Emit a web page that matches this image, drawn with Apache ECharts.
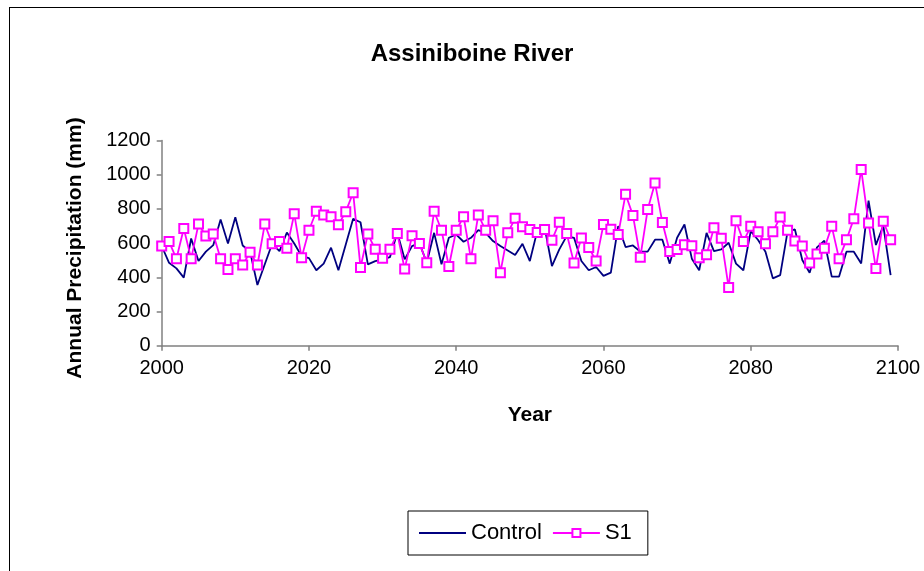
<!DOCTYPE html>
<html>
<head>
<meta charset="utf-8">
<script src="https://cdn.jsdelivr.net/npm/echarts@6/dist/echarts.min.js"></script>
<style>
html,body{margin:0;padding:0;background:#fff;}
#frame{position:absolute;left:9px;top:7px;width:930px;height:580px;border:1px solid #000;box-sizing:border-box;}
#chart{position:absolute;left:0;top:0;width:924px;height:571px;}
</style>
</head>
<body>
<div id="frame"></div>
<div id="chart"></div>
<script>
const startYear = 2000;
const controlValues = [
  583, 485, 452, 398, 627, 495, 550, 588, 738, 598,
  751, 586, 550, 355, 476, 596, 553, 662, 598, 524,
  512, 441, 480, 573, 441, 592, 742, 722, 476, 495,
  505, 518, 660, 505, 582, 600, 485, 660, 476, 631,
  650, 608, 631, 676, 660, 612, 583, 557, 530, 596,
  495, 670, 693, 466, 563, 641, 631, 495, 441, 460,
  408, 427, 699, 577, 586, 550, 550, 620, 620, 480,
  631, 709, 509, 441, 660, 553, 563, 602, 480, 441,
  670, 618, 550, 394, 413, 667, 680, 501, 427, 575,
  614, 404, 404, 550, 550, 481, 848, 589, 702, 413
];
const s1Values = [
  583, 609, 508, 685, 508, 711, 641, 653, 508, 446,
  508, 472, 547, 472, 711, 596, 609, 570, 771, 515,
  675, 786, 765, 754, 707, 784, 895, 457, 653, 564,
  512, 564, 656, 448, 643, 598, 485, 786, 675, 463,
  675, 754, 508, 765, 675, 730, 427, 660, 745, 696,
  679, 662, 679, 617, 722, 656, 483, 630, 574, 495,
  709, 681, 651, 886, 762, 517, 796, 952, 720, 551,
  562, 591, 585, 515, 532, 690, 628, 340, 730, 609,
  698, 666, 596, 666, 752, 675, 613, 583, 483, 536,
  570, 698, 508, 619, 743, 1031, 717, 451, 728, 619
];
const seriesNames = ['Control', 'S1'];
const xTicks = [2000, 2020, 2040, 2060, 2080, 2100];
const yTicks = [0, 200, 400, 600, 800, 1000, 1200];
const yAxisTitle = 'Annual Precipitation (mm)';

const toPairs = vals => vals.map((v, i) => [startYear + i, v]);

const chart = echarts.init(document.getElementById('chart'), null, {renderer: 'canvas'});
const font = '"Liberation Sans", Arial, sans-serif';
chart.setOption({
  backgroundColor: 'transparent',
  animation: false,
  textStyle: {fontFamily: font, color: '#000'},
  title: {
    text: 'Assiniboine River',
    left: 467, top: 37, textAlign: 'center',
    textStyle: {fontFamily: font, fontSize: 24, fontWeight: 'bold', color: '#000'}
  },
  graphic: [{
    type: 'text',
    x: 75, y: 248,
    rotation: Math.PI / 2,
    style: {
      text: yAxisTitle,
      font: 'bold 21px "Liberation Sans", Arial, sans-serif',
      fill: '#000',
      align: 'center',
      verticalAlign: 'middle'
    }
  }],
  grid: {left: 161.7, top: 140.5, width: 736.3, height: 205.2, containLabel: false},
  xAxis: {
    type: 'value',
    min: xTicks[0], max: xTicks[xTicks.length - 1], interval: 20,
    name: 'Year', nameLocation: 'middle', nameGap: 59,
    nameTextStyle: {fontFamily: font, fontSize: 21, fontWeight: 'bold', color: '#000'},
    axisLine: {onZero: false, lineStyle: {color: '#808080', width: 1.5}},
    axisTick: {show: true, inside: false, length: 5, lineStyle: {color: '#808080', width: 1.5}},
    axisLabel: {fontFamily: font, fontSize: 20, color: '#000', margin: 13, formatter: v => String(v)},
    splitLine: {show: false}
  },
  yAxis: {
    type: 'value',
    min: yTicks[0], max: yTicks[yTicks.length - 1], interval: 200,
    axisLine: {show: true, lineStyle: {color: '#808080', width: 1.5}},
    axisTick: {show: true, inside: false, length: 5, lineStyle: {color: '#808080', width: 1.5}},
    axisLabel: {fontFamily: font, fontSize: 20, color: '#000', margin: 11, formatter: v => String(v)},
    splitLine: {show: false}
  },
  legend: {
    left: 408, top: 511,
    orient: 'horizontal',
    padding: [11, 16, 11, 10],
    itemGap: 10,
    itemWidth: 47, itemHeight: 10,
    borderColor: '#000', borderWidth: 1,
    backgroundColor: '#fff',
    textStyle: {fontFamily: font, fontSize: 22, color: '#000'},
    data: [
      {name: seriesNames[0], itemStyle: {opacity: 0}},
      {name: seriesNames[1]}
    ]
  },
  series: [
    {
      name: seriesNames[0], type: 'line',
      data: toPairs(controlValues),
      symbol: 'none',
      lineStyle: {color: '#000080', width: 1.8},
      itemStyle: {color: '#000080'},
      z: 2
    },
    {
      name: seriesNames[1], type: 'line',
      data: toPairs(s1Values),
      symbol: 'emptyRect', symbolSize: 9,
      lineStyle: {color: '#FF00FF', width: 1.8},
      itemStyle: {color: '#FF00FF', borderColor: '#FF00FF', borderWidth: 1.8},
      z: 3
    }
  ]
});
</script>
</body>
</html>
